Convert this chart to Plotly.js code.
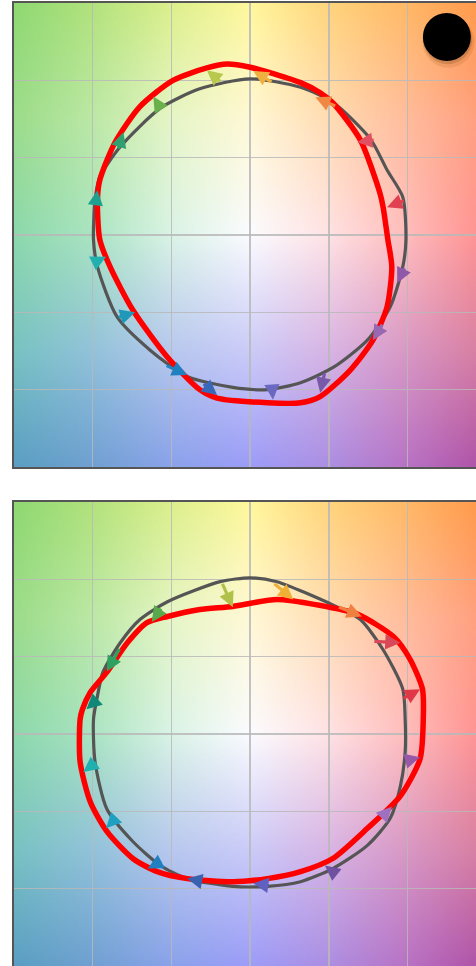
<!DOCTYPE html>
<html>
<head>
<meta charset="utf-8">
<script src="https://cdn.plot.ly/plotly-3.0.1.min.js"></script>
<style>html,body{margin:0;padding:0;background:#fff;}#chart{width:476px;height:966px;}</style>
</head>
<body>
<div id="chart"></div>
<script>
// ---------- Panel 1 (top) curves ----------
const grey1X = [0, 0.64, 1.06, 1.53, 1.74, 1.94, 1.98, 1.94, 1.78, 1.49, 1.06, 0.64, 0.22, -0.22, -0.80, -1.27, -1.69, -1.94, -1.99, -1.97, -1.91, -1.65, -1.14, -0.64];
const grey1Y = [2.02, 1.91, 1.71, 1.24, 0.84, 0.49, -0.06, -0.41, -0.93, -1.36, -1.71, -1.91, -2.00, -1.97, -1.83, -1.49, -1.06, -0.41, -0.06, 0.45, 0.75, 1.14, 1.64, 1.89];
const red1X = [-0.29, 0, 0.22, 0.64, 0.89, 1.05, 1.40, 1.65, 1.69, 1.75, 1.80, 1.74, 1.56, 1.27, 0.89, 0.64, 0.22, -0.42, -0.64, -1.05, -1.49, -1.78, -1.91, -1.94, -1.91, -1.72, -1.40, -0.98, -0.55];
const red1Y = [2.21, 2.17, 2.11, 1.97, 1.84, 1.71, 1.23, 0.54, 0.36, -0.06, -0.41, -0.93, -1.36, -1.75, -2.09, -2.17, -2.17, -2.11, -2.00, -1.58, -0.97, -0.41, -0.06, 0.45, 0.71, 1.19, 1.66, 2.00, 2.16];

// arrows panel 1: tail -> head
const arr1TailX = [-1.14, -0.36, 0.29, 1.10, 1.59, 1.97, -1.68, -1.96, -1.99, -1.69, -1.08, -0.61, 0.28, 0.95, 1.69, 1.97];
const arr1TailY = [1.64, 1.97, 1.97, 1.66, 1.23, 0.45, 1.10, 0.43, -0.36, -1.07, -1.68, -1.91, -1.98, -1.77, -1.14, -0.41];
const arr1HeadX = [-1.23, -0.55, 0.04, 0.83, 1.36, 1.74, -1.61, -1.94, -1.83, -1.46, -0.80, -0.42, 0.29, 0.89, 1.56, 1.87];
const arr1HeadY = [1.79, 2.13, 2.12, 1.78, 1.20, 0.36, 1.33, 0.58, -0.28, -1.00, -1.81, -2.07, -2.13, -2.04, -1.36, -0.62];
const arr1Color = ['#6ab04c', '#b8c84c', '#f0b040', '#f08844', '#e05060', '#e04050', '#30a070', '#20a090', '#20b0b0', '#2098b8', '#2080c0', '#3a68b8', '#6a68c0', '#7858a8', '#9868b0', '#9058a8'];

// ---------- Panel 2 (bottom) curves ----------
const grey2X = [0, 0.34, 1.05, 1.40, 1.69, 1.94, 1.97, 1.97, 1.91, 1.78, 1.49, 1.05, 0.64, 0.22, -0.22, -0.80, -1.14, -1.49, -1.82, -1.97, -1.99, -1.94, -1.87, -1.65, -1.40, -1.05, -0.38];
const grey2Y = [2.02, 1.97, 1.67, 1.48, 1.09, 0.58, 0.19, -0.23, -0.67, -1.09, -1.44, -1.74, -1.91, -1.97, -1.97, -1.87, -1.70, -1.39, -0.97, -0.36, 0.19, 0.49, 0.80, 1.18, 1.48, 1.71, 1.97];
const red2X = [-0.22, 0.34, 0.85, 1.36, 1.82, 2.03, 2.19, 2.20, 2.16, 1.91, 1.49, 1.05, 0.64, 0.22, -0.22, -0.80, -1.18, -1.49, -1.82, -2.03, -2.16, -2.16, -2.13, -2.03, -1.82, -1.56, -1.31, -1.05, -0.64];
const red2Y = [1.65, 1.74, 1.67, 1.55, 1.26, 0.97, 0.58, 0.19, -0.32, -0.80, -1.22, -1.61, -1.78, -1.87, -1.91, -1.87, -1.78, -1.61, -1.26, -0.88, -0.36, 0.19, 0.32, 0.54, 0.80, 1.18, 1.44, 1.52, 1.61];

const arr2TailX = [-1.12, -0.36, 0.29, 1.11, 1.56, 1.93, -1.65, -1.94, -1.94, -1.68, -1.11, -0.60, 0.25, 1.05, 1.69, 1.97];
const arr2TailY = [1.64, 1.96, 1.96, 1.65, 1.20, 0.45, 1.12, 0.45, -0.35, -1.06, -1.64, -1.91, -1.96, -1.78, -1.06, -0.35];
const arr2HeadX = [-1.25, -0.22, 0.55, 1.42, 1.91, 2.16, -1.82, -2.08, -2.12, -1.83, -1.30, -0.80, 0.04, 0.95, 1.80, 2.16];
const arr2HeadY = [1.45, 1.64, 1.74, 1.52, 1.18, 0.58, 0.81, 0.32, -0.49, -1.22, -1.74, -1.87, -1.93, -1.70, -0.94, -0.30];
const arr2Color = ['#5aa84c', '#b0c048', '#f0b038', '#f08040', '#d84858', '#e03848', '#30a060', '#108878', '#20b0b0', '#20a0c0', '#2080c0', '#3a60b0', '#6060c0', '#7050a0', '#a070c0', '#9858a8'];

// marker dot in panel 1
const dotX = [2.50];
const dotY = [2.56];

// background colour field anchors
const bgCols = [-3, -2, -1, 0, 1, 2, 2.87];
const bgRows = [3, 1.5, 0, -1.5, -3];
const bgColors = [
  ['#8ed872', '#b2e27c', '#dcef8c', '#fff79c', '#ffd47c', '#ffb866', '#ff9a4c'],
  ['#9cdc8a', '#bce8a6', '#e6f5c6', '#fff8d6', '#ffdcb4', '#ffbc9c', '#ffa080'],
  ['#8cd8ac', '#aae4c2', '#daf3e6', '#fbfbff', '#ffe2e4', '#ffbcbc', '#ff9494'],
  ['#78c2c2', '#92c2da', '#b8c8ee', '#cbcbf8', '#d8b4e4', '#d898c4', '#d880a4'],
  ['#5a9ec2', '#70a0d2', '#8aa2ea', '#9c9cf8', '#ac8ee2', '#b872c4', '#b054a8']
];

const X0 = -3, X1 = 2.87, Y0 = -3, Y1 = 3;

function hex2rgb(h) { return [parseInt(h.substr(1,2),16), parseInt(h.substr(3,2),16), parseInt(h.substr(5,2),16)]; }
function seg(arr, v) {
  for (let i = 0; i < arr.length - 1; i++) {
    const a = arr[i], b = arr[i+1];
    const lo = Math.min(a,b), hi = Math.max(a,b);
    if (v >= lo && v <= hi) return [i, (v - a) / (b - a)];
  }
  return v < Math.min(arr[0], arr[arr.length-1]) ? (arr[0] < arr[1] ? [0,0] : [arr.length-2,1]) : (arr[0] < arr[1] ? [arr.length-2,1] : [0,0]);
}
function makeBg() {
  const W = 240, H = 240;
  const c = document.createElement('canvas');
  c.width = W; c.height = H;
  const ctx = c.getContext('2d');
  const img = ctx.createImageData(W, H);
  const rgb = bgColors.map(r => r.map(hex2rgb));
  for (let j = 0; j < H; j++) {
    const y = Y1 - (j + 0.5) / H * (Y1 - Y0);
    const [ri, rt] = seg(bgRows, y);
    for (let i = 0; i < W; i++) {
      const x = X0 + (i + 0.5) / W * (X1 - X0);
      const [ci, ct] = seg(bgCols, x);
      const a = rgb[ri][ci], b = rgb[ri][ci+1], cc = rgb[ri+1][ci], d = rgb[ri+1][ci+1];
      const k = (j * W + i) * 4;
      for (let ch = 0; ch < 3; ch++) {
        const top = a[ch] * (1 - ct) + b[ch] * ct;
        const bot = cc[ch] * (1 - ct) + d[ch] * ct;
        img.data[k + ch] = Math.round(top * (1 - rt) + bot * rt);
      }
      img.data[k + 3] = 255;
    }
  }
  ctx.putImageData(img, 0, 0);
  return c.toDataURL('image/png');
}
const bgURL = makeBg();

function closed(a) { return a.concat([a[0]]); }

const traces = [];
function addPanel(gx, gy, rx, ry, xa, ya) {
  traces.push({x: closed(gx), y: closed(gy), xaxis: xa, yaxis: ya, mode: 'lines', type: 'scatter',
    line: {color: '#555555', width: 3.2, shape: 'spline', smoothing: 0.7}, hoverinfo: 'skip', showlegend: false});
  traces.push({x: closed(rx), y: closed(ry), xaxis: xa, yaxis: ya, mode: 'lines', type: 'scatter',
    line: {color: '#ff0000', width: 5.5, shape: 'spline', smoothing: 0.7}, hoverinfo: 'skip', showlegend: false});
}
addPanel(grey1X, grey1Y, red1X, red1Y, 'x', 'y');
addPanel(grey2X, grey2Y, red2X, red2Y, 'x2', 'y2');
// dot with soft shadow
traces.push({x: [dotX[0] + 0.02], y: [dotY[0] - 0.06], xaxis: 'x', yaxis: 'y', mode: 'markers', type: 'scatter',
  marker: {size: 52, color: 'rgba(120,60,0,0.12)', line: {width: 0}}, hoverinfo: 'skip', showlegend: false});
traces.push({x: [dotX[0] + 0.01], y: [dotY[0] - 0.035], xaxis: 'x', yaxis: 'y', mode: 'markers', type: 'scatter',
  marker: {size: 49, color: 'rgba(80,40,0,0.18)', line: {width: 0}}, hoverinfo: 'skip', showlegend: false});
traces.push({x: dotX, y: dotY, xaxis: 'x', yaxis: 'y', mode: 'markers', type: 'scatter',
  marker: {size: 48, color: '#000000', line: {width: 0}}, hoverinfo: 'skip', showlegend: false});

const annotations = [];
function addArrows(tx, ty, hx, hy, col, xr, yr) {
  for (let i = 0; i < tx.length; i++) {
    annotations.push({x: hx[i], y: hy[i], ax: tx[i], ay: ty[i], xref: xr, yref: yr, axref: xr, ayref: yr,
      text: '', showarrow: true, arrowhead: 2, arrowsize: 0.95, arrowwidth: 3.2, arrowcolor: col[i], standoff: 0, startstandoff: 0});
  }
}
addArrows(arr1TailX, arr1TailY, arr1HeadX, arr1HeadY, arr1Color, 'x', 'y');
addArrows(arr2TailX, arr2TailY, arr2HeadX, arr2HeadY, arr2Color, 'x2', 'y2');

const axBase = {range: [X0, X1], dtick: 1, tick0: 0, showticklabels: false, ticks: '', zeroline: false,
  showgrid: true, gridcolor: 'rgba(185,185,185,0.85)', gridwidth: 1.5, linecolor: '#555555', linewidth: 2, fixedrange: true};
const ayBase = {range: [Y0, Y1], dtick: 1, tick0: 0, showticklabels: false, ticks: '', zeroline: false,
  showgrid: true, gridcolor: 'rgba(185,185,185,0.85)', gridwidth: 1.5, linecolor: '#555555', linewidth: 2, fixedrange: true};

const layout = {
  width: 476, height: 966,
  margin: {l: 14, r: 0, t: 3, b: 0, pad: 0},
  paper_bgcolor: '#ffffff', plot_bgcolor: '#ffffff',
  showlegend: false,
  xaxis: Object.assign({}, axBase, {domain: [0, 1], anchor: 'y', showline: true, mirror: true}),
  yaxis: Object.assign({}, ayBase, {domain: [0.5182, 1], anchor: 'x', showline: true, mirror: false}),
  xaxis2: Object.assign({}, axBase, {domain: [0, 1], anchor: 'y2', showline: true, mirror: false, side: 'top'}),
  yaxis2: Object.assign({}, ayBase, {domain: [0, 0.4818], anchor: 'x2', showline: true, mirror: false}),
  images: [
    {source: bgURL, xref: 'x', yref: 'y', x: X0, y: Y1, sizex: X1 - X0, sizey: Y1 - Y0, sizing: 'stretch', layer: 'below', xanchor: 'left', yanchor: 'top'},
    {source: bgURL, xref: 'x2', yref: 'y2', x: X0, y: Y1, sizex: X1 - X0, sizey: Y1 - Y0, sizing: 'stretch', layer: 'below', xanchor: 'left', yanchor: 'top'}
  ],
  annotations: annotations
};

Plotly.newPlot('chart', traces, layout, {displayModeBar: false, staticPlot: true});
</script>
</body>
</html>
